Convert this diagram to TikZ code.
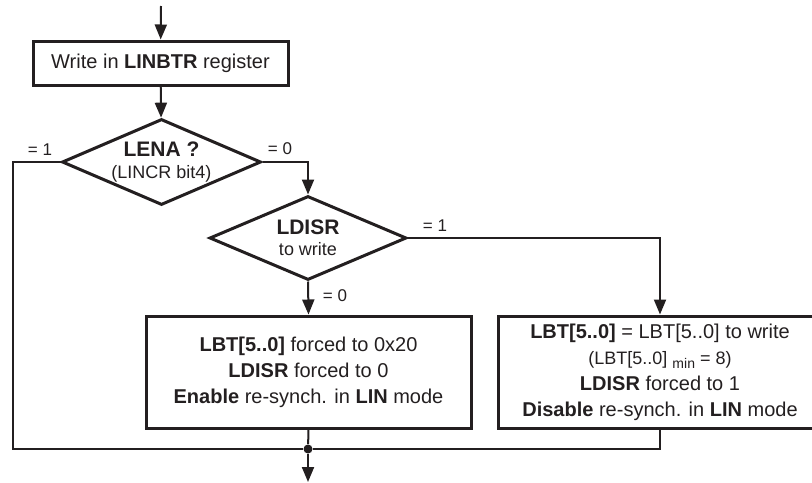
\documentclass[tikz,border=0pt]{standalone}
\usepackage{fontspec}
\setmainfont{Liberation Sans}
\usetikzlibrary{shapes.geometric, arrows.meta}
\definecolor{ink}{HTML}{231F20}
\tikzstyle{box}      = [draw=ink, line width=1.5pt, rectangle, inner sep=0pt, align=center, text=ink, font=\fontsize{10}{13}\selectfont]
\tikzstyle{decision} = [draw=ink, line width=1.5pt, diamond, aspect=2.3, inner sep=0pt, align=center, text=ink]
\tikzstyle{edge}     = [draw=ink, line width=1pt]
\tikzstyle{diredge}  = [edge, -{Triangle[length=7.5pt,width=6pt]}]
\tikzstyle{lbl}      = [text=ink, inner sep=0pt, font=\fontsize{8.5}{10}\selectfont]
\tikzstyle{joint}    = [circle, fill=ink, inner sep=0pt, minimum size=4.5pt]

\begin{document}
\begin{tikzpicture}[x=0.5pt, y=-0.5pt]
\useasboundingbox (0,0) rectangle (812,482);

\coordinate (in) at (161,6);
\node[box, minimum width=127.5pt, minimum height=22pt] (wr) at (160.5,63) {Write in \textbf{LINBTR} register};

\node[decision, minimum width=99.5pt, minimum height=43pt, font=\fontsize{9}{11}\selectfont] (lena) at (161.5,162)
  {\textbf{\fontsize{10.5}{11}\selectfont LENA ?}\\(LINCR bit4)};
\node[decision, minimum width=98.5pt, minimum height=42pt, font=\fontsize{9}{10.5}\selectfont] (ldisr) at (308,238)
  {\textbf{\fontsize{10.5}{10.5}\selectfont LDISR}\\to write};

\node[box, minimum width=162.5pt, minimum height=56pt] (lbox) at (308.5,372)
  {\textbf{LBT[5..0]} forced to 0x20\\\textbf{LDISR} forced to 0\\\textbf{Enable} re-synch. in \textbf{LIN} mode};
\node[box, minimum width=162pt, minimum height=56pt] (rbox) at (660,372)
  {\textbf{LBT[5..0]} = LBT[5..0] to write\\{\fontsize{9}{13}\selectfont (LBT[5..0] \raisebox{-2pt}{\fontsize{7}{8}\selectfont min} = 8)}\\\textbf{LDISR} forced to 1\\\textbf{Disable} re-synch. in \textbf{LIN} mode};

\node[joint] (join) at (308,449) {};
\coordinate (lcorner) at (13,449);
\coordinate (out) at (308,482);

\node[lbl] (l1) at (40,150) {= 1};
\node[lbl] (l2) at (280,149) {= 0};
\node[lbl] (l3) at (435,226) {= 1};
\node[lbl] (l4) at (335,296) {= 0};

\draw[diredge] (in) -- (wr);
\draw[diredge] (wr) -- (lena);
\draw[diredge] (lena.east) -| (ldisr.north);
\draw[diredge] (ldisr.east) -| (rbox.north);
\draw[diredge] (ldisr.south) -- (lbox.north);
\draw[edge] (lena.west) -| (lcorner) -- (join);
\draw[edge] (lbox.south) -- (join);
\draw[edge] (rbox.south) |- (join);
\draw[diredge] (join) -- (out);

\end{tikzpicture}
\end{document}
